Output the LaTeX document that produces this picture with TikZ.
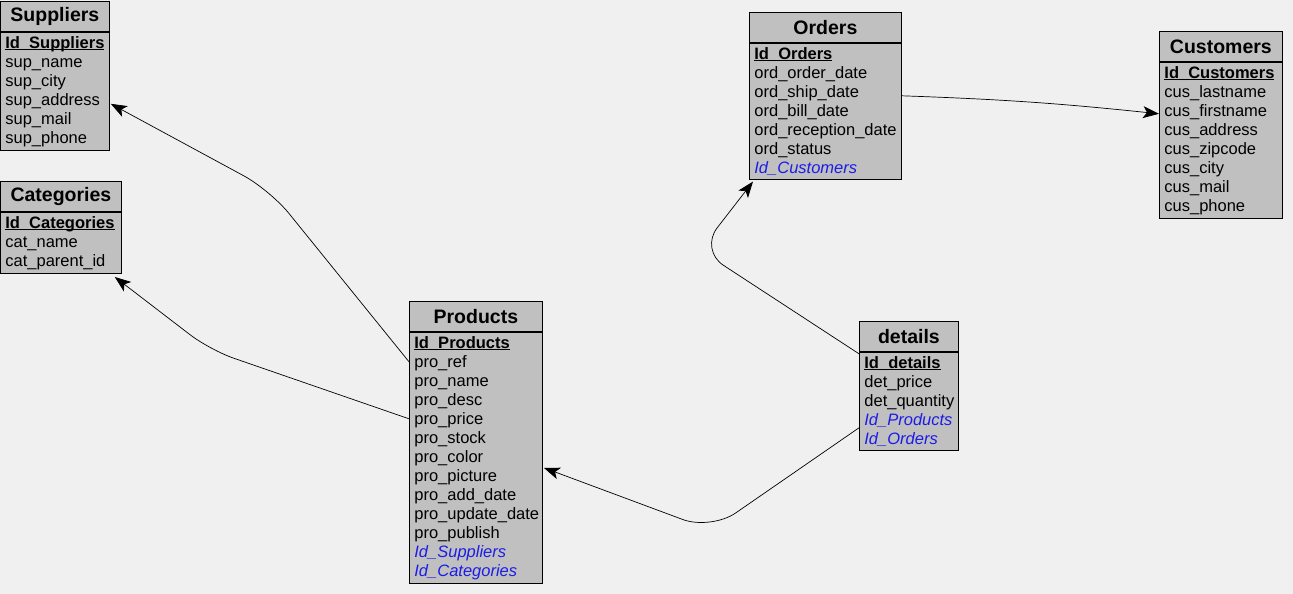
\documentclass[tikz,border=0pt]{standalone}
\usepackage{fontspec}
\setmainfont{Liberation Sans}
\usepackage{tikz}
\usetikzlibrary{arrows.meta, positioning, calc}
\usepackage{xcolor}
\definecolor{canvas}{HTML}{F0F0F0}
\definecolor{tablegray}{HTML}{C0C0C0}
\definecolor{fkblue}{HTML}{1C1CE8}

\newsavebox\keybox
\newcommand{\pk}[1]{\sbox\keybox{\bfseries #1}\rlap{\rule[-2.2pt]{\wd\keybox}{0.9pt}}\usebox\keybox}
\newcommand{\fk}[1]{\textcolor{fkblue}{\itshape #1}}

\begin{document}
\begin{tikzpicture}[
    x=1pt, y=-1pt,
    % Node styles
    tabhead/.style={draw=black, line width=0.8pt, fill=tablegray, anchor=north west, minimum height=30pt, inner sep=0pt, font=\fontsize{19.5}{22}\selectfont\bfseries},
    tabbody/.style={draw=black, line width=0.8pt, fill=tablegray, align=left, inner xsep=5pt, inner ysep=4pt, font=\fontsize{16.5}{19}\selectfont},
    link/.style={-{Stealth[length=16pt, width=12pt, inset=4pt]}, line width=0.7pt},
]

% Canvas
\fill[canvas] (0,0) rectangle (1293,594);
\useasboundingbox (0,0) rectangle (1293,594);

% Table: Suppliers
\node[tabhead, minimum width=109pt] (suphead) at (0,1) {Suppliers};
\node[tabbody, text width=99pt, below=0pt of suphead] (supbody) {\pk{Id\_Suppliers}\\sup\_name\\sup\_city\\sup\_address\\sup\_mail\\sup\_phone};

% Table: Categories
\node[tabhead, minimum width=121pt] (cathead) at (0,181) {Categories};
\node[tabbody, text width=111pt, below=0pt of cathead] (catbody) {\pk{Id\_Categories}\\cat\_name\\cat\_parent\_id};

% Table: Orders
\node[tabhead, minimum width=152pt] (ordhead) at (749,12) {Orders};
\node[tabbody, text width=142pt, below=0pt of ordhead] (ordbody) {\pk{Id\_Orders}\\ord\_order\_date\\ord\_ship\_date\\ord\_bill\_date\\ord\_reception\_date\\ord\_status\\\fk{Id\_Customers}};

% Table: Customers
\node[tabhead, minimum width=123pt] (cushead) at (1159,31) {Customers};
\node[tabbody, text width=113pt, below=0pt of cushead] (cusbody) {\pk{Id\_Customers}\\cus\_lastname\\cus\_firstname\\cus\_address\\cus\_zipcode\\cus\_city\\cus\_mail\\cus\_phone};

% Table: Products
\node[tabhead, minimum width=133pt] (prodhead) at (409,301) {Products};
\node[tabbody, text width=123pt, below=0pt of prodhead] (prodbody) {\pk{Id\_Products}\\pro\_ref\\pro\_name\\pro\_desc\\pro\_price\\pro\_stock\\pro\_color\\pro\_picture\\pro\_add\_date\\pro\_update\_date\\pro\_publish\\\fk{Id\_Suppliers}\\\fk{Id\_Categories}};

% Table: details
\node[tabhead, minimum width=99pt] (dethead) at (859,321) {details};
\node[tabbody, text width=89pt, below=0pt of dethead] (detbody) {\pk{Id\_details}\\det\_price\\det\_quantity\\\fk{Id\_Products}\\\fk{Id\_Orders}};

% Bend points of the links
\coordinate (supbend) at (270,190);
\coordinate (catbend) at (210,350);
\coordinate (prodbend) at (711,530);
\coordinate (ordbend) at (700,250);

% Links
\draw[link, rounded corners=30pt] ($(prodbody.north west)+(0,30)$) -- (supbend) -- ($(supbody.north east)+(1,72)$);
\draw[link, rounded corners=25pt] ($(prodbody.north west)+(0,87)$) -- (catbend) -- ($(catbody.south east)+(-7,3)$);
\draw[link, rounded corners=30pt] ($(detbody.north west)+(0,76)$) -- (prodbend) -- ($(prodbody.north east)+(1,136)$);
\draw[link, rounded corners=28pt] ($(detbody.north west)+(0,2)$) -- (ordbend) -- ($(ordbody.south west)+(4,2)$);
\draw[link] ($(ordbody.north east)+(0,53)$) to[bend left=2] ($(cusbody.north west)+(0,52)$);

\end{tikzpicture}
\end{document}
